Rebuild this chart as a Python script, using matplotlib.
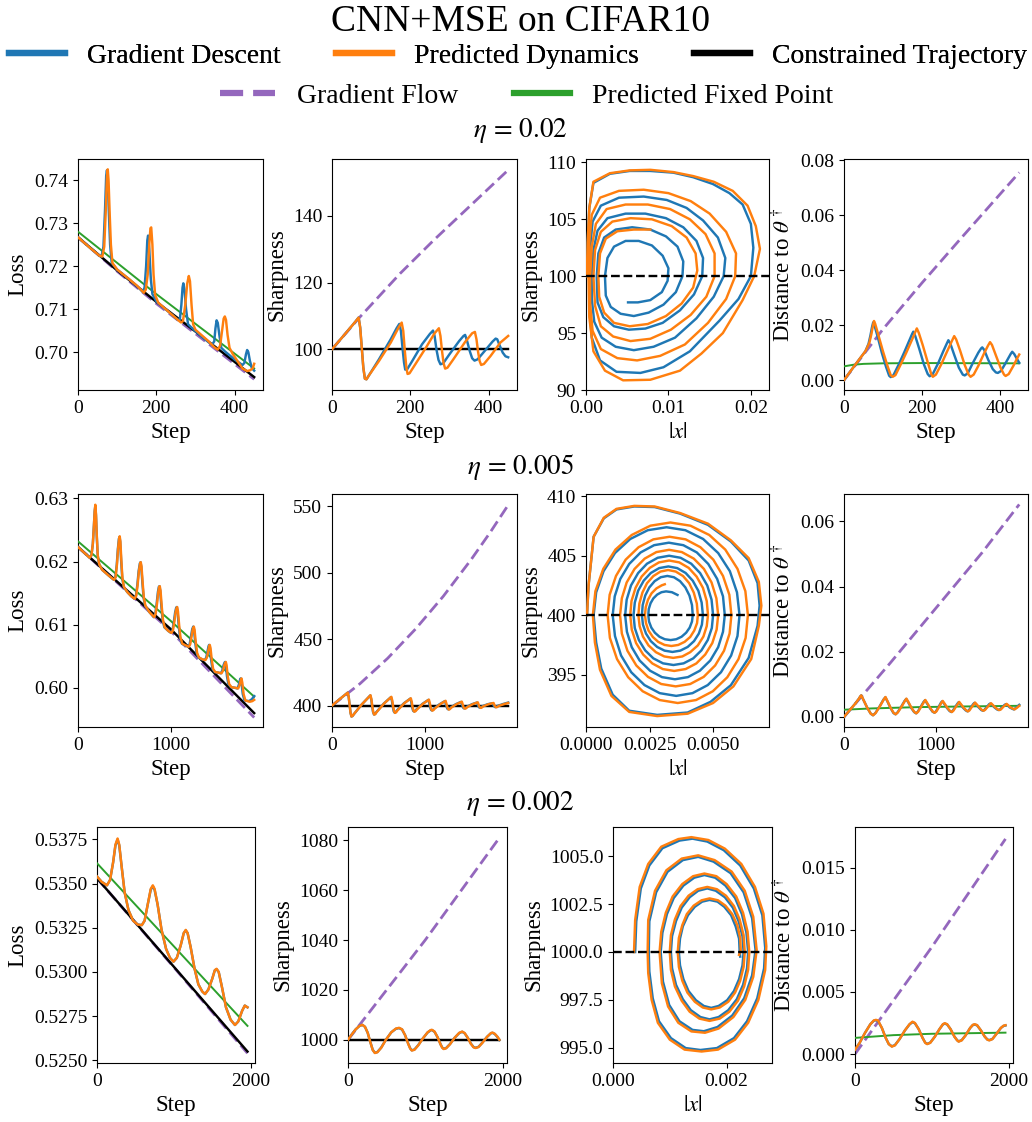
import matplotlib
matplotlib.use('Agg')
import matplotlib.pyplot as plt
from matplotlib.lines import Line2D

plt.rcParams['font.family'] = ['Liberation Serif', 'STIXGeneral', 'DejaVu Serif']
plt.rcParams['mathtext.fontset'] = 'stix'
plt.rcParams['axes.formatter.useoffset'] = False
plt.rcParams['xtick.labelsize'] = 14
plt.rcParams['ytick.labelsize'] = 14
plt.rcParams['axes.labelsize'] = 16.5

C_GD = '#1f77b4'
C_PD = '#ff7f0e'
C_CT = 'black'
C_GF = '#9467bd'
C_FP = '#2ca02c'

TITLE = 'CNN+MSE on CIFAR10'
LEGEND_ROW1 = ['Gradient Descent', 'Predicted Dynamics', 'Constrained Trajectory']
LEGEND_ROW2 = ['Gradient Flow', 'Predicted Fixed Point']
ETA_LABELS = [r'$\eta\,=\,0.02$', r'$\eta\,=\,0.005$', r'$\eta\,=\,0.002$']
THRESHOLDS = [100, 400, 1000]

# ---------------- Row 1 (eta = 0.02) ----------------
loss1_gd = [(0,0.7267),(30,0.7243),(55,0.7224),(60,0.7222),(65,0.7245),(69,0.7330),(72,0.7410),(74,0.7423),(76,0.7400),(79,0.7320),(82,0.7250),(86,0.7208),(100,0.7192),(130,0.7170),(155,0.7150),(165,0.7140),(170,0.7150),(174,0.7200),(177,0.7260),(179,0.7271),(182,0.7240),(186,0.7170),(190,0.7135),(200,0.7118),(240,0.7087),(255,0.7075),(260,0.7075),(264,0.7110),(267,0.7150),(269,0.7160),(272,0.7145),(276,0.7100),(281,0.7065),(290,0.7057),(320,0.7033),(342,0.7017),(348,0.7025),(351,0.7055),(354,0.7074),(357,0.7068),(361,0.7040),(366,0.7010),(375,0.7002),(400,0.6983),(420,0.6970),(425,0.6975),(429,0.6995),(432,0.7005),(435,0.7000),(439,0.6980),(444,0.6963),(450,0.6957)]
loss1_pd = [(0,0.7267),(30,0.7243),(55,0.7224),(62,0.7222),(67,0.7245),(71,0.7330),(74,0.7410),(76,0.7425),(78,0.7400),(81,0.7320),(84,0.7250),(88,0.7207),(100,0.7192),(130,0.7170),(150,0.7155),(163,0.7143),(168,0.7138),(173,0.7145),(178,0.7180),(182,0.7250),(185,0.7288),(187,0.7290),(190,0.7250),(193,0.7180),(197,0.7133),(205,0.7115),(230,0.7095),(255,0.7075),(263,0.7069),(268,0.7072),(274,0.7110),(279,0.7160),(283,0.7177),(286,0.7165),(290,0.7110),(294,0.7065),(300,0.7052),(330,0.7028),(350,0.7010),(357,0.7006),(363,0.7015),(368,0.7050),(372,0.7078),(375,0.7083),(378,0.7075),(382,0.7040),(387,0.7010),(395,0.6996),(420,0.6962),(432,0.6956),(440,0.6958),(446,0.6962),(450,0.6973)]
loss1_ct = [(0,0.7267),(100,0.7190),(200,0.7117),(300,0.7048),(450,0.6942)]
loss1_gf = [(0,0.7267),(100,0.7188),(200,0.7113),(300,0.7043),(450,0.6937)]
loss1_fp = [(0,0.7280),(200,0.7135),(450,0.6962)]

sharp1_gd = [(0,100.0),(35,104.8),(60,108.3),(68,109.5),(72,106.5),(76,100.5),(80,94.5),(84,91.2),(88,91.0),(95,92.3),(120,97.0),(150,103.0),(165,106.3),(172,107.6),(176,105.5),(180,100.5),(184,96.0),(187,93.9),(192,94.0),(205,96.5),(230,101.5),(250,104.6),(258,105.6),(262,104.0),(267,99.8),(272,96.8),(277,95.5),(284,95.8),(300,98.5),(325,102.5),(336,104.0),(340,104.3),(345,102.5),(352,99.4),(358,97.3),(364,96.6),(372,97.0),(390,99.5),(410,102.3),(418,103.2),(422,103.0),(428,101.2),(436,99.0),(443,97.9),(450,97.6)]
sharp1_pd = [(0,100.0),(35,104.8),(60,108.3),(68,109.5),(72,106.5),(76,100.5),(80,94.5),(84,91.2),(88,91.0),(95,92.3),(120,96.5),(150,102.0),(170,106.5),(178,108.0),(182,105.5),(186,99.5),(190,94.5),(193,92.6),(198,92.8),(210,95.0),(240,100.5),(262,104.8),(273,106.3),(277,104.0),(281,99.5),(285,95.8),(289,94.2),(295,94.5),(310,97.0),(340,102.2),(358,104.8),(365,105.2),(369,103.0),(373,99.3),(377,96.5),(381,95.3),(388,95.6),(405,98.0),(430,102.0),(450,104.0)]
sharp1_ct = [(0,100.0),(450,100.0)]
sharp1_gf = [(0,100.0),(70,109.5),(174,122.7),(260,132.7),(346,142.2),(450,153.7)]

spiral1_gd = [(0.0001,100.0),(0.0002,103.0),(0.0004,106.0),(0.0009,108.2),(0.0029,109.0),(0.0053,109.25),(0.0078,109.25),(0.0106,109.1),(0.0130,108.7),(0.0154,108.1),(0.0174,107.3),(0.0190,106.3),(0.0200,104.6),(0.0203,102.5),(0.0200,100.0),(0.0185,98.0),(0.0162,96.1),(0.0126,93.4),(0.0094,92.0),(0.0066,91.5),(0.0037,91.6),(0.0017,92.6),(0.0007,94.6),(0.0004,97.3),
              (0.0004,100.0),(0.0005,102.5),(0.0008,104.8),(0.0018,106.2),(0.0040,106.9),(0.0070,107.0),(0.0098,106.7),(0.0122,106.0),(0.0142,104.9),(0.0160,103.4),(0.0169,101.6),(0.0167,100.0),(0.0155,98.2),(0.0134,96.3),(0.0108,94.6),(0.0082,93.8),(0.0058,93.5),(0.0036,93.8),(0.0019,94.6),(0.0010,96.0),(0.0007,98.0),
              (0.0007,100.0),(0.0009,102.3),(0.0014,104.0),(0.0026,105.1),(0.0048,105.5),(0.0072,105.5),(0.0097,105.1),(0.0118,104.3),(0.0134,103.1),(0.0142,101.6),(0.0141,100.0),(0.0131,98.4),(0.0114,97.0),(0.0093,95.9),(0.0072,95.4),(0.0052,95.3),(0.0034,95.6),(0.0021,96.4),(0.0014,97.7),
              (0.0013,100.0),(0.0015,102.0),(0.0022,103.4),(0.0036,104.1),(0.0056,104.3),(0.0078,104.1),(0.0097,103.5),(0.0111,102.6),(0.0118,101.3),(0.0117,100.0),(0.0109,98.6),(0.0094,97.5),(0.0076,96.8),(0.0058,96.5),(0.0042,96.7),(0.0030,97.3),(0.0024,98.3),
              (0.0023,100.0),(0.0026,101.6),(0.0034,102.6),(0.0048,103.1),(0.0064,103.1),(0.0080,102.7),(0.0093,101.8),(0.0100,100.7),(0.0099,99.6),(0.0092,98.6),(0.0078,97.9),(0.0063,97.7),(0.0051,97.7)]
spiral1_pd = [(0.0001,100.0),(0.0002,103.0),(0.0004,106.0),(0.0009,108.3),(0.0029,109.05),(0.0053,109.3),(0.0078,109.35),(0.0106,109.15),(0.0130,108.8),(0.0155,108.3),(0.0178,107.5),(0.0196,106.2),(0.0206,104.4),(0.0211,102.4),(0.0204,100.0),(0.0190,97.9),(0.0166,95.0),(0.0140,93.2),(0.0114,91.7),(0.0078,90.9),(0.0045,90.85),(0.0023,91.7),(0.0009,93.4),(0.0004,96.4),
              (0.0003,100.0),(0.0004,103.0),(0.0007,105.4),(0.0017,106.9),(0.0040,107.5),(0.0070,107.6),(0.0100,107.3),(0.0127,106.6),(0.0150,105.5),(0.0170,103.9),(0.0182,102.0),(0.0181,100.0),(0.0170,98.0),(0.0148,95.9),(0.0120,94.0),(0.0090,93.0),(0.0062,92.6),(0.0038,92.8),(0.0018,93.6),(0.0008,95.2),(0.0005,97.6),
              (0.0005,100.0),(0.0007,102.6),(0.0012,104.6),(0.0025,105.9),(0.0048,106.3),(0.0075,106.3),(0.0102,105.9),(0.0126,105.0),(0.0145,103.7),(0.0156,102.0),(0.0156,100.0),(0.0146,98.2),(0.0127,96.6),(0.0103,95.3),(0.0078,94.5),(0.0054,94.3),(0.0033,94.7),(0.0018,95.6),(0.0011,97.4),
              (0.0009,100.0),(0.0011,102.3),(0.0018,103.9),(0.0032,104.8),(0.0054,105.1),(0.0080,105.0),(0.0104,104.4),(0.0122,103.4),(0.0133,102.0),(0.0135,100.5),(0.0130,99.0),(0.0116,97.6),(0.0097,96.5),(0.0075,95.8),(0.0053,95.6),(0.0034,95.9),(0.0022,96.8),(0.0016,98.2),
              (0.0015,100.0),(0.0017,102.0),(0.0024,103.3),(0.0038,103.95),(0.0058,104.1),(0.0078,104.1)]

dist1_gd = [(0,0.0),(30,0.0058),(55,0.0105),(63,0.0132),(68,0.0163),(72,0.0193),(75,0.0210),(78,0.0200),(86,0.0160),(97,0.0100),(108,0.0048),(116,0.0016),(120,0.0011),(127,0.0018),(140,0.0055),(155,0.0102),(168,0.0145),(175,0.0168),(178,0.0176),(183,0.0160),(193,0.0115),(205,0.0058),(215,0.0022),(220,0.0014),(228,0.0022),(242,0.0062),(255,0.0105),(264,0.0133),(268,0.0145),(273,0.0133),(283,0.0092),(295,0.0045),(305,0.0020),(310,0.0017),(318,0.0025),(330,0.0060),(345,0.0100),(352,0.0115),(355,0.0119),(360,0.0110),(370,0.0075),(382,0.0040),(390,0.0028),(395,0.0026),(403,0.0033),(415,0.0062),(428,0.0095),(432,0.0103),(437,0.0095),(445,0.0075),(450,0.0063)]
dist1_pd = [(0,0.0),(30,0.0058),(55,0.0105),(65,0.0135),(70,0.0165),(74,0.0195),(77,0.0215),(80,0.0205),(88,0.0165),(100,0.0105),(112,0.0050),(120,0.0018),(125,0.0012),(132,0.0018),(145,0.0055),(160,0.0100),(175,0.0148),(183,0.0175),(187,0.0188),(192,0.0172),(202,0.0128),(215,0.0065),(224,0.0022),(228,0.0012),(236,0.0020),(250,0.0058),(265,0.0105),(277,0.0142),(283,0.0160),(288,0.0148),(298,0.0108),(310,0.0055),(320,0.0020),(325,0.0012),(333,0.0020),(345,0.0052),(360,0.0098),(370,0.0126),(375,0.0138),(380,0.0128),(390,0.0090),(402,0.0045),(411,0.0020),(415,0.0015),(423,0.0022),(435,0.0052),(445,0.0080),(450,0.0093)]
dist1_gf = [(0,0.0),(100,0.0185),(200,0.0353),(300,0.0515),(450,0.0755)]
dist1_fp = [(0,0.0050),(25,0.0056),(50,0.0059),(100,0.0061),(200,0.0062),(450,0.0061)]

# ---------------- Row 2 (eta = 0.005) ----------------
loss2_gd = [(0,0.6223),(60,0.6215),(126,0.6206),(145,0.6210),(160,0.6228),(172,0.6258),(180,0.6280),(187,0.6288),(194,0.6273),(203,0.6238),(213,0.6209),(228,0.6196),(260,0.6187),(330,0.6178),(387,0.6171),(403,0.6175),(418,0.6195),(430,0.6220),(441,0.6236),(448,0.6239),(455,0.6231),(465,0.6202),(477,0.6174),(493,0.6160),(530,0.6152),(575,0.6145),(609,0.6141),(625,0.6146),(640,0.6163),(654,0.6185),(667,0.6197),(674,0.6199),(682,0.6192),(694,0.6167),(707,0.6143),(724,0.6130),(770,0.6120),(817,0.6112),(833,0.6117),(848,0.6133),(862,0.6152),(872,0.6160),(878,0.6161),(886,0.6154),(899,0.6129),(913,0.6107),(931,0.6096),(975,0.6090),(1003,0.6087),(1019,0.6091),(1034,0.6105),(1048,0.6120),(1059,0.6127),(1065,0.6128),(1073,0.6121),(1086,0.6099),(1100,0.6080),(1120,0.6070),(1160,0.6067),(1188,0.6065),(1204,0.6069),(1218,0.6081),(1232,0.6093),(1243,0.6097),(1251,0.6092),(1264,0.6072),(1279,0.6055),(1299,0.6048),(1340,0.6045),(1367,0.6044),(1383,0.6048),(1397,0.6058),(1408,0.6066),(1414,0.6068),(1422,0.6063),(1435,0.6045),(1450,0.6030),(1475,0.6025),(1515,0.6024),(1539,0.6023),(1555,0.6027),(1570,0.6036),(1581,0.6040),(1586,0.6041),(1594,0.6036),(1607,0.6018),(1622,0.6006),(1650,0.6001),(1695,0.6000),(1718,0.5999),(1733,0.6004),(1746,0.6012),(1754,0.6015),(1763,0.6008),(1777,0.5990),(1796,0.5980),(1845,0.5979),(1875,0.5982),(1900,0.5987)]
loss2_pd = [(0,0.6223),(60,0.6215),(126,0.6206),(145,0.6210),(160,0.6228),(172,0.6258),(180,0.6280),(187,0.6290),(194,0.6275),(203,0.6240),(213,0.6210),(228,0.6196),(260,0.6187),(330,0.6178),(389,0.6171),(405,0.6175),(420,0.6195),(432,0.6220),(443,0.6236),(450,0.6240),(457,0.6232),(467,0.6203),(479,0.6174),(495,0.6160),(530,0.6152),(575,0.6145),(612,0.6141),(628,0.6146),(643,0.6163),(657,0.6185),(670,0.6197),(677,0.6199),(685,0.6192),(697,0.6167),(710,0.6143),(727,0.6130),(770,0.6120),(821,0.6112),(837,0.6117),(852,0.6133),(866,0.6152),(876,0.6160),(882,0.6161),(890,0.6154),(903,0.6129),(917,0.6107),(935,0.6096),(975,0.6090),(1008,0.6087),(1024,0.6091),(1039,0.6105),(1053,0.6120),(1064,0.6127),(1070,0.6128),(1078,0.6121),(1091,0.6099),(1105,0.6080),(1125,0.6070),(1165,0.6067),(1194,0.6065),(1210,0.6069),(1224,0.6081),(1238,0.6093),(1249,0.6097),(1257,0.6092),(1270,0.6072),(1285,0.6055),(1305,0.6048),(1345,0.6045),(1374,0.6044),(1390,0.6048),(1404,0.6058),(1415,0.6066),(1421,0.6068),(1429,0.6063),(1442,0.6045),(1457,0.6030),(1480,0.6025),(1520,0.6024),(1547,0.6023),(1563,0.6027),(1578,0.6036),(1589,0.6040),(1594,0.6041),(1602,0.6036),(1615,0.6018),(1630,0.6006),(1655,0.6001),(1700,0.6000),(1727,0.5999),(1742,0.6004),(1755,0.6012),(1763,0.6015),(1772,0.6008),(1786,0.5990),(1805,0.5980),(1853,0.5978),(1880,0.5979),(1900,0.5981)]
loss2_ct = [(0,0.6223),(1000,0.6093),(1900,0.5960)]
loss2_gf = [(0,0.6223),(1000,0.6090),(1900,0.5953)]
loss2_fp = [(0,0.6232),(1000,0.6106),(1900,0.5986)]

sharp2_gd = [(0,400.0),(85,405.0),(170,409.8),(180,406.5),(190,400.5),(200,394.5),(210,391.8),(222,392.2),(235,393.5),(320,400.8),(413,407.7),
             (423,404.7),(433,399.5),(443,395.1),(453,393.3),(465,393.7),(478,395.1),(558,401.5),(636,406.4),
             (646,403.7),(656,399.0),(666,395.7),(676,394.7),(688,395.2),(701,396.5),(776,401.8),(845,405.3),
             (855,402.7),(865,398.5),(875,396.1),(885,395.6),(897,396.1),(910,397.1),(975,401.3),(1039,404.3),
             (1049,401.8),(1058,398.6),(1068,396.8),(1077,396.4),(1089,396.9),(1101,397.8),(1159,401.0),(1218,403.4),
             (1228,401.1),(1237,398.8),(1246,397.5),(1255,397.2),(1266,397.6),(1278,398.5),(1333,401.0),(1392,402.8),
             (1402,400.7),(1411,398.8),(1420,398.0),(1429,397.9),(1440,398.2),(1452,399.0),(1507,401.0),(1563,402.3),
             (1573,400.5),(1581,399.1),(1590,398.5),(1599,398.5),(1609,398.8),(1621,399.5),(1676,401.0),(1732,401.8),
             (1742,400.3),(1750,399.3),(1758,398.9),(1767,398.9),(1777,399.3),(1790,399.9),(1845,401.2),(1900,402.3)]
sharp2_pd = [(0,400.0),(85,405.0),(170,409.8),(180,406.5),(190,400.5),(200,394.5),(210,391.8),(222,392.2),(235,393.5),(320,400.8),(415,407.8),
             (425,404.8),(435,399.5),(445,395.0),(455,393.2),(467,393.6),(480,395.0),(560,401.5),(640,406.6),
             (650,403.8),(660,399.0),(670,395.6),(680,394.5),(692,395.0),(705,396.3),(780,401.8),(850,405.5),
             (860,402.8),(870,398.5),(880,396.0),(890,395.4),(902,395.9),(915,397.0),(980,401.3),(1045,404.5),
             (1055,401.9),(1064,398.6),(1074,396.7),(1083,396.2),(1095,396.7),(1107,397.7),(1165,401.0),(1225,403.6),
             (1235,401.2),(1244,398.8),(1253,397.4),(1262,397.0),(1273,397.5),(1285,398.4),(1340,401.0),(1400,403.0),
             (1410,400.8),(1419,398.8),(1428,397.9),(1437,397.7),(1448,398.1),(1460,398.9),(1515,401.0),(1572,402.5),
             (1582,400.6),(1590,399.0),(1599,398.4),(1608,398.3),(1618,398.7),(1630,399.4),(1685,401.0),(1742,402.0),
             (1752,400.3),(1760,399.2),(1768,398.8),(1777,398.8),(1787,399.2),(1800,399.8),(1850,401.0),(1900,402.0)]
sharp2_ct = [(0,400.0),(1900,400.0)]
sharp2_gf = [(0,400.0),(300,416.4),(600,435.6),(900,457.6),(1200,482.3),(1500,509.9),(1700,529.8),(1900,551.0)]

spiral2_gd = [(0.00004,400.0),(0.0001,402.5),(0.0003,406.6),(0.0007,408.15),(0.0012,408.9),(0.0019,409.15),(0.0027,409.1),(0.0037,408.55),(0.0048,407.6),(0.0057,406.2),(0.0064,404.6),(0.00675,402.7),(0.00683,400.8),(0.00675,399.1),(0.0064,396.4),(0.0057,394.1),(0.0049,392.7),(0.0040,391.8),(0.0028,391.6),(0.0017,391.95),(0.00105,393.3),(0.0006,395.5),(0.0004,397.7),
              (0.0003,400.0),(0.0004,401.92),(0.00069,403.7),(0.00114,405.23),(0.00174,406.41),(0.00243,407.15),(0.00317,407.4),(0.00391,407.15),(0.00461,406.41),(0.0052,405.23),(0.00566,403.7),(0.00594,401.92),(0.00604,400.0),(0.00596,398.24),(0.00571,396.6),(0.00531,395.19),(0.00479,394.11),(0.00419,393.43),(0.00355,393.2),(0.0029,393.43),(0.0023,394.11),(0.00178,395.19),(0.00138,396.6),(0.00114,398.24),
              (0.00105,400.0),(0.00113,401.58),(0.00135,403.05),(0.0017,404.31),(0.00215,405.28),(0.00268,405.89),(0.00326,406.1),(0.00383,405.89),(0.00436,405.28),(0.00481,404.31),(0.00516,403.05),(0.00539,401.58),(0.00546,400.0),(0.00539,398.6),(0.0052,397.3),(0.00489,396.18),(0.00448,395.32),(0.00401,394.78),(0.0035,394.6),(0.00299,394.78),(0.00252,395.32),(0.00211,396.18),(0.0018,397.3),(0.00161,398.6),
              (0.00154,400.0),(0.0016,401.3),(0.00177,402.5),(0.00205,403.54),(0.0024,404.33),(0.00282,404.83),(0.00327,405.0),(0.00372,404.83),(0.00414,404.33),(0.00449,403.54),(0.00477,402.5),(0.00494,401.3),(0.0050,400.0),(0.00495,398.91),(0.00479,397.9),(0.00454,397.03),(0.00422,396.36),(0.00384,395.94),(0.00344,395.8),(0.00303,395.94),(0.00265,396.36),(0.00233,397.03),(0.00208,397.9),(0.00192,398.91),
              (0.00187,400.0),(0.00192,401.06),(0.00205,402.05),(0.00227,402.9),(0.00255,403.55),(0.00288,403.96),(0.00324,404.1),(0.00359,403.96),(0.00392,403.55),(0.0042,402.9),(0.00442,402.05),(0.00455,401.06),(0.0046,400.0),(0.00456,399.2),(0.00444,398.45),(0.00425,397.81),(0.0040,397.32),(0.00371,397.01),(0.0034,396.9),(0.00309,397.01),(0.0028,397.32),(0.00255,397.81),(0.00236,398.45),(0.00224,399.2),
              (0.0022,400.0),(0.00223,400.85),(0.00233,401.65),(0.00249,402.33),(0.0027,402.86),(0.00294,403.19),(0.0032,403.3),(0.00346,403.19),(0.0037,402.86),(0.00391,402.33),(0.00407,401.65),(0.00417,400.85),(0.0042,400.0),(0.00417,399.46),(0.00408,398.95),(0.00394,398.52),(0.00376,398.18),(0.00355,397.97),(0.00333,397.9),(0.0031,397.97),(0.00289,398.18),(0.00271,398.52),(0.00257,398.95),(0.00248,399.46),
              (0.00245,400.0),(0.00247,400.52),(0.00254,401.0),(0.00265,401.41),(0.0028,401.73),(0.00297,401.93),(0.00315,402.0),(0.00338,401.93),(0.0036,401.7)]
spiral2_pd = [(0.00004,400.0),(0.0001,402.5),(0.0003,406.6),(0.0007,408.2),(0.0012,408.95),(0.0019,409.2),(0.0027,409.15),(0.0037,408.6),(0.0048,407.7),(0.0057,406.3),(0.0064,404.8),(0.0068,402.8),(0.0069,400.8),(0.0068,399.1),(0.0065,396.3),(0.0058,394.0),(0.0050,392.6),(0.0040,391.7),(0.0028,391.5),(0.0017,391.85),(0.0010,393.2),(0.00055,395.4),(0.00035,397.7),
              (0.00027,400.0),(0.00037,402.02),(0.00068,403.9),(0.00116,405.52),(0.0018,406.75),(0.00253,407.53),(0.00332,407.8),(0.00411,407.53),(0.00485,406.75),(0.00548,405.52),(0.00596,403.9),(0.00627,402.02),(0.00637,400.0),(0.00628,398.08),(0.0060,396.3),(0.00556,394.77),(0.00499,393.59),(0.00433,392.85),(0.00361,392.6),(0.0029,392.85),(0.00223,393.59),(0.00166,394.77),(0.00122,396.3),(0.00094,398.08),
              (0.00085,400.0),(0.00093,401.71),(0.00118,403.3),(0.00156,404.67),(0.00207,405.72),(0.00265,406.38),(0.00329,406.6),(0.00392,406.38),(0.0045,405.72),(0.00501,404.67),(0.00539,403.3),(0.00564,401.71),(0.00572,400.0),(0.00565,398.45),(0.00543,397.0),(0.00508,395.76),(0.00463,394.8),(0.0041,394.2),(0.00353,394.0),(0.00296,394.2),(0.00244,394.8),(0.00198,395.76),(0.00163,397.0),(0.00141,398.45),
              (0.00134,400.0),(0.00141,401.42),(0.0016,402.75),(0.00191,403.89),(0.00231,404.76),(0.00277,405.31),(0.00327,405.5),(0.00377,405.31),(0.00424,404.76),(0.00464,403.89),(0.00494,402.75),(0.00513,401.42),(0.0052,400.0),(0.00514,398.78),(0.00497,397.65),(0.00469,396.68),(0.00434,395.93),(0.00392,395.46),(0.00347,395.3),(0.00302,395.46),(0.00261,395.93),(0.00225,396.68),(0.00197,397.65),(0.0018,398.78),
              (0.00174,400.0),(0.00179,401.19),(0.00195,402.3),(0.00219,403.25),(0.00251,403.98),(0.00287,404.44),(0.00327,404.6),(0.00367,404.44),(0.00404,403.98),(0.00435,403.25),(0.0046,402.3),(0.00475,401.19),(0.0048,400.0),(0.00475,399.07),(0.00462,398.2),(0.0044,397.45),(0.0041,396.88),(0.00379,396.52),(0.00343,396.4),(0.00308,396.52),(0.00275,396.88),(0.00246,397.45),(0.00224,398.2),(0.00211,399.07),
              (0.00206,400.0),(0.0021,400.98),(0.00222,401.9),(0.0024,402.69),(0.00265,403.29),(0.00293,403.67),(0.00323,403.8),(0.00353,403.67),(0.00382,403.29),(0.00406,402.69),(0.00424,401.9),(0.00436,400.98),(0.0044,400.0),(0.00437,399.33),(0.00426,398.7),(0.0041,398.16),(0.00388,397.75),(0.00363,397.49),(0.00336,397.4),(0.00309,397.49),(0.00284,397.75),(0.00263,398.16),(0.00246,398.7),(0.00236,399.33),
              (0.00232,400.0),(0.00235,400.67),(0.00244,401.3),(0.00258,401.84),(0.00277,402.25),(0.00298,402.51),(0.0031,402.6)]

dist2_gd = [(0,0.0),(60,0.0020),(120,0.0040),(160,0.0055),(177,0.0063),(187,0.0066),
            (213,0.0051),(252,0.0028),(290,0.0010),(314,0.0005),(341,0.0012),(388,0.0033),(428,0.0053),(448,0.0060),
            (470,0.0048),(503,0.0028),(536,0.0012),(558,0.0008),(581,0.0014),(622,0.0032),(657,0.0049),(674,0.0055),
            (696,0.0045),(728,0.0028),(760,0.0015),(781,0.0011),(800,0.0016),(834,0.0032),(863,0.0046),(878,0.0051),
            (899,0.0042),(929,0.0028),(960,0.0016),(980,0.0013),(997,0.0017),(1027,0.0031),(1052,0.0044),(1065,0.0048),
            (1085,0.0041),(1115,0.0028),(1145,0.0018),(1164,0.0015),(1180,0.0019),(1207,0.0031),(1231,0.0041),(1243,0.0045),
            (1262,0.0039),(1291,0.0028),(1320,0.0020),(1338,0.0017),(1353,0.0020),(1380,0.0031),(1403,0.0040),(1414,0.0043),
            (1433,0.0038),(1461,0.0029),(1489,0.0021),(1507,0.0019),(1523,0.0022),(1550,0.0031),(1574,0.0039),(1586,0.0041),
            (1604,0.0037),(1632,0.0029),(1659,0.0023),(1676,0.0021),(1692,0.0023),(1719,0.0031),(1742,0.0037),(1754,0.0039),
            (1771,0.0036),(1797,0.0029),(1824,0.0025),(1841,0.0023),(1870,0.0029),(1900,0.0037)]
dist2_pd = [(0,0.0),(60,0.0020),(120,0.0040),(160,0.0055),(177,0.0063),(187,0.0066),
            (213,0.0051),(252,0.0028),(290,0.0010),(316,0.0005),(343,0.0012),(390,0.0033),(430,0.0053),(450,0.0061),
            (472,0.0048),(505,0.0028),(539,0.0012),(561,0.0008),(584,0.0014),(625,0.0032),(660,0.0049),(677,0.0056),
            (699,0.0045),(731,0.0028),(763,0.0015),(785,0.0011),(804,0.0016),(838,0.0032),(867,0.0046),(882,0.0052),
            (903,0.0042),(933,0.0028),(964,0.0016),(985,0.0013),(1002,0.0017),(1032,0.0031),(1057,0.0044),(1070,0.0049),
            (1090,0.0041),(1120,0.0028),(1150,0.0018),(1170,0.0015),(1186,0.0019),(1213,0.0031),(1237,0.0041),(1249,0.0046),
            (1268,0.0039),(1297,0.0028),(1326,0.0020),(1345,0.0017),(1360,0.0020),(1387,0.0031),(1410,0.0040),(1421,0.0044),
            (1440,0.0038),(1468,0.0029),(1496,0.0021),(1515,0.0019),(1531,0.0022),(1558,0.0031),(1582,0.0039),(1594,0.0042),
            (1612,0.0037),(1640,0.0029),(1667,0.0023),(1685,0.0021),(1701,0.0023),(1728,0.0031),(1751,0.0037),(1763,0.0040),
            (1780,0.0036),(1806,0.0029),(1833,0.0025),(1850,0.0023),(1875,0.0028),(1900,0.0034)]
dist2_gf = [(0,0.0),(500,0.0165),(1000,0.0335),(1500,0.0505),(1900,0.0652)]
dist2_fp = [(0,0.0022),(300,0.0026),(800,0.0030),(1300,0.0032),(1900,0.0034)]

# ---------------- Row 3 (eta = 0.002) ----------------
loss3_gd = [(0,0.5354),(60,0.5351),(130,0.5349),(170,0.5352),(210,0.5362),(240,0.53715),(268,0.5375),(290,0.53715),(320,0.5360),(360,0.5345),(410,0.5335),(470,0.5329),(530,0.53268),(584,0.53265),(620,0.5329),(660,0.5338),(700,0.53465),(727,0.53485),(750,0.53465),(790,0.5338),(840,0.5324),(900,0.5313),(950,0.5308),(996,0.53058),(1040,0.5308),(1090,0.5315),(1130,0.5322),(1156,0.53235),(1180,0.5322),(1220,0.5314),(1270,0.5302),(1320,0.5293),(1370,0.5289),(1407,0.52875),(1450,0.5290),(1500,0.5296),(1535,0.5301),(1558,0.53015),(1585,0.5300),(1625,0.5292),(1680,0.5280),(1740,0.5273),(1797,0.5270),(1840,0.5272),(1890,0.5278),(1925,0.5281),(1960,0.5280)]
loss3_pd = [(0,0.5354),(60,0.5351),(130,0.5349),(170,0.5352),(210,0.5362),(240,0.5372),(268,0.53755),(290,0.5372),(320,0.5360),(360,0.5345),(410,0.5335),(470,0.5329),(530,0.53268),(584,0.53265),(620,0.5329),(660,0.5338),(700,0.5347),(727,0.5349),(750,0.5347),(790,0.5338),(840,0.5324),(900,0.5313),(950,0.5308),(996,0.53058),(1040,0.5308),(1090,0.5315),(1130,0.5322),(1156,0.53238),(1180,0.5322),(1220,0.5314),(1270,0.5302),(1320,0.5293),(1370,0.5289),(1407,0.52875),(1450,0.5290),(1500,0.5296),(1535,0.5301),(1558,0.53018),(1585,0.5300),(1625,0.5292),(1680,0.5280),(1740,0.5273),(1797,0.5270),(1840,0.5272),(1890,0.5278),(1925,0.5281),(1960,0.5280)]
loss3_ct = [(0,0.5353),(1960,0.5255)]
loss3_gf = [(0,0.5353),(1000,0.53027),(1960,0.5254)]
loss3_fp = [(0,0.53615),(1960,0.52695)]

sharp3_gd = [(0,1000.0),(50,1002.2),(100,1004.2),(150,1005.6),(187,1005.95),(220,1005.2),(255,1002.8),(290,999.0),(320,996.0),(348,994.8),(380,995.1),(430,996.9),(490,1000.0),(560,1003.0),(620,1004.4),(661,1004.7),(700,1004.1),(740,1001.8),(780,998.4),(805,996.6),(826,995.8),(860,996.1),(910,997.9),(970,1000.6),(1030,1002.9),(1070,1003.8),(1087,1003.9),(1120,1003.2),(1160,1001.0),(1200,998.1),(1220,996.9),(1239,996.4),(1270,996.7),(1320,998.3),(1380,1000.8),(1440,1002.7),(1478,1003.2),(1510,1002.6),(1550,1000.8),(1590,998.5),(1625,997.1),(1652,996.8),(1690,997.2),(1740,998.9),(1800,1001.2),(1850,1002.6),(1870,1002.8),(1900,1002.3),(1935,1001.1),(1960,999.9)]
sharp3_pd = [(0,1000.0),(50,1002.2),(100,1004.2),(150,1005.6),(187,1006.0),(220,1005.2),(255,1002.8),(290,999.0),(320,995.9),(348,994.7),(380,995.0),(430,996.8),(490,1000.0),(560,1003.0),(620,1004.5),(661,1004.8),(700,1004.2),(740,1001.8),(780,998.3),(805,996.5),(826,995.7),(860,996.0),(910,997.8),(970,1000.6),(1030,1003.0),(1070,1003.9),(1087,1004.0),(1120,1003.3),(1160,1001.0),(1200,998.0),(1220,996.8),(1239,996.3),(1270,996.6),(1320,998.2),(1380,1000.8),(1440,1002.8),(1478,1003.3),(1510,1002.7),(1550,1000.8),(1590,998.4),(1625,997.0),(1652,996.7),(1690,997.1),(1740,998.8),(1800,1001.2),(1850,1002.7),(1870,1002.9),(1900,1002.4),(1935,1001.2),(1960,1000.0)]
sharp3_ct = [(0,1000.0),(1960,1000.0)]
sharp3_gf = [(0,1000.0),(1000,1040.0),(1960,1081.0)]

spiral3_gd = [(0.00039,1000.0),(0.00041,1001.6),(0.00049,1003.32),(0.00064,1004.52),(0.00087,1005.42),(0.00117,1005.82),(0.0014,1005.92),(0.00166,1005.77),(0.00195,1005.32),(0.00224,1004.52),(0.00248,1003.32),(0.00263,1001.92),(0.00268,1000.22),(0.00266,999.14),(0.00254,997.58),(0.00236,996.38),(0.00213,995.5),(0.00183,994.98),(0.00154,994.88),(0.00128,994.98),(0.00102,995.5),(0.00081,996.38),(0.0007,997.58),(0.00064,998.98),
              (0.00063,1000.0),(0.00064,1001.6),(0.00076,1003.12),(0.00096,1004.19),(0.00123,1004.8),(0.0015,1004.97),(0.00177,1004.72),(0.00207,1004.12),(0.0023,1003.12),(0.00245,1001.76),(0.00251,1000.1),(0.00245,998.78),(0.00231,997.58),(0.0021,996.68),(0.00184,996.08),(0.0016,995.86),(0.0014,995.93),(0.00117,996.38),(0.00099,997.23),(0.00088,998.45),
              (0.00084,1000.0),(0.00087,1001.0),(0.00095,1001.98),(0.00107,1002.82),(0.00124,1003.47),(0.00143,1003.88),(0.00161,1004.02),(0.0018,1003.88),(0.00198,1003.47),(0.00215,1002.82),(0.00227,1001.98),(0.00235,1001.0),(0.00238,1000.0),(0.00236,999.15),(0.00229,998.28),(0.00218,997.53),(0.00203,996.96),(0.00186,996.6),(0.0017,996.48),(0.00154,996.6),(0.00137,996.96),(0.00123,997.53),(0.00111,998.28),(0.00104,999.15),
              (0.00102,1000.0),(0.00104,1000.83),(0.00111,1001.62),(0.00121,1002.32),(0.00135,1002.86),(0.0015,1003.2),(0.00166,1003.32),(0.00181,1003.2),(0.00197,1002.86),(0.00211,1002.32),(0.00221,1001.62),(0.00228,1000.83),(0.0023,1000.0),(0.00228,999.3),(0.00222,998.58),(0.00213,997.96),(0.00201,997.48),(0.00186,997.18),(0.00173,997.08),(0.0016,997.18),(0.00146,997.48),(0.00133,997.96),(0.00124,998.58),(0.00118,999.3),
              (0.00116,1000.0),(0.00118,1000.7),(0.00123,1001.34),(0.00132,1001.92),(0.00144,1002.36),(0.00157,1002.63),(0.0017,1002.72),(0.00184,1002.63),(0.00196,1002.36),(0.00208,1001.92),(0.00216,1001.34),(0.00222,1000.7),(0.00223,1000.05),(0.00224,999.76)]
spiral3_pd = [(0.00037,1000.0),(0.00039,1001.67),(0.00047,1003.4),(0.00062,1004.6),(0.00085,1005.5),(0.00115,1005.9),(0.00138,1006.0),(0.00168,1005.85),(0.00197,1005.4),(0.00226,1004.6),(0.0025,1003.4),(0.00265,1002.0),(0.0027,1000.3),(0.00268,999.06),(0.00256,997.5),(0.00238,996.3),(0.00215,995.42),(0.00185,994.9),(0.00156,994.8),(0.00126,994.9),(0.0010,995.42),(0.00079,996.3),(0.00068,997.5),(0.00062,998.9),
              (0.00061,1000.0),(0.00062,1001.67),(0.00074,1003.2),(0.00094,1004.27),(0.00121,1004.88),(0.0015,1005.05),(0.00179,1004.8),(0.00209,1004.2),(0.00232,1003.2),(0.00247,1001.84),(0.00253,1000.1),(0.00247,998.7),(0.00233,997.5),(0.00212,996.6),(0.00186,996.0),(0.00162,995.78),(0.00138,995.85),(0.00115,996.3),(0.00097,997.15),(0.00086,998.37),
              (0.00082,1000.0),(0.00085,1001.06),(0.00093,1002.05),(0.00105,1002.9),(0.00122,1003.55),(0.00141,1003.96),(0.00161,1004.1),(0.00182,1003.96),(0.0020,1003.55),(0.00217,1002.9),(0.00229,1002.05),(0.00237,1001.06),(0.0024,1000.0),(0.00238,999.07),(0.00231,998.2),(0.0022,997.45),(0.00205,996.88),(0.00188,996.52),(0.0017,996.4),(0.00152,996.52),(0.00135,996.88),(0.00121,997.45),(0.00109,998.2),(0.00102,999.07),
              (0.0010,1000.0),(0.00102,1000.88),(0.00109,1001.7),(0.00119,1002.4),(0.00133,1002.94),(0.00149,1003.28),(0.00166,1003.4),(0.00183,1003.28),(0.00199,1002.94),(0.00213,1002.4),(0.00223,1001.7),(0.0023,1000.88),(0.00232,1000.0),(0.0023,999.22),(0.00224,998.5),(0.00215,997.88),(0.00203,997.4),(0.00188,997.1),(0.00173,997.0),(0.00158,997.1),(0.00144,997.4),(0.00131,997.88),(0.00122,998.5),(0.00116,999.22),
              (0.00114,1000.0),(0.00116,1000.73),(0.00122,1001.4),(0.0013,1001.98),(0.00142,1002.42),(0.00156,1002.7),(0.0017,1002.8),(0.00185,1002.7),(0.00198,1002.42),(0.0021,1001.98),(0.00219,1001.4),(0.00224,1000.73),(0.00225,1000.1),(0.00222,999.85)]

dist3_gd = [(0,0.00035),(60,0.0009),(130,0.0017),(200,0.0024),(245,0.00268),(272,0.00272),(300,0.00265),(350,0.0021),(400,0.0013),(440,0.0008),(480,0.00062),(520,0.00072),(580,0.0012),(650,0.0019),(710,0.00238),(749,0.00257),(780,0.00248),(830,0.0020),(880,0.0013),(915,0.00092),(940,0.00082),(980,0.00092),(1040,0.0014),(1100,0.0020),(1145,0.00238),(1169,0.00245),(1200,0.00238),(1245,0.0020),(1295,0.0014),(1330,0.00112),(1350,0.00102),(1390,0.00112),(1440,0.0015),(1500,0.0021),(1535,0.00233),(1558,0.00237),(1590,0.00231),(1640,0.0019),(1690,0.0014),(1725,0.00117),(1750,0.00112),(1790,0.00122),(1840,0.0016),(1900,0.0021),(1935,0.00226),(1960,0.0023)]
dist3_pd = [(0,0.00035),(60,0.0009),(130,0.0017),(200,0.0024),(245,0.0027),(272,0.00275),(300,0.0027),(350,0.0021),(400,0.0013),(440,0.0008),(480,0.0006),(520,0.0007),(580,0.0012),(650,0.0019),(710,0.0024),(749,0.0026),(780,0.0025),(830,0.0020),(880,0.0013),(915,0.0009),(940,0.0008),(980,0.0009),(1040,0.0014),(1100,0.0020),(1145,0.0024),(1169,0.00248),(1200,0.0024),(1245,0.0020),(1295,0.0014),(1330,0.0011),(1350,0.0010),(1390,0.0011),(1440,0.0015),(1500,0.0021),(1535,0.00235),(1558,0.0024),(1590,0.00233),(1640,0.0019),(1690,0.0014),(1725,0.00115),(1750,0.0011),(1790,0.0012),(1840,0.0016),(1900,0.0021),(1935,0.00228),(1960,0.00232)]
dist3_gf = [(0,0.0),(1000,0.0086),(1960,0.0173)]
dist3_fp = [(0,0.0013),(500,0.00152),(1000,0.00163),(1960,0.00172)]

# ---------------- layout (pixel boxes: left, top, right, bottom) ----------------
W, H = 1032, 1122
BOXES = [
    [(78,159,263,390),(332,159,517,390),(586,159,769,390),(844,159,1028,390)],
    [(78,494,263,727),(332,494,517,727),(586,494,769,727),(844,494,1028,727)],
    [(97,827,255,1063),(348,827,507,1063),(613,827,772,1063),(855,827,1013,1063)],
]
ETA_Y = [131, 467, 804]

ROWS = [
    dict(loss=(loss1_gd, loss1_pd, loss1_ct, loss1_gf, loss1_fp), sharp=(sharp1_gd, sharp1_pd, sharp1_ct, sharp1_gf),
         spiral=(spiral1_gd, spiral1_pd), dist=(dist1_gd, dist1_pd, dist1_gf, dist1_fp),
         xlim=(0, 472.5), xticks=[0, 200, 400],
         loss_ylim=(0.6912, 0.7449), loss_yt=[0.70, 0.71, 0.72, 0.73, 0.74],
         sharp_ylim=(87.8, 157.0), sharp_yt=[100, 120, 140],
         sp_xlim=(0, 0.0222), sp_ylim=(90.0, 110.3), sp_xt=[0.0, 0.01, 0.02], sp_yt=[90, 95, 100, 105, 110],
         dist_ylim=(-0.0036, 0.0804), dist_yt=[0.0, 0.02, 0.04, 0.06, 0.08]),
    dict(loss=(loss2_gd, loss2_pd, loss2_ct, loss2_gf, loss2_fp), sharp=(sharp2_gd, sharp2_pd, sharp2_ct, sharp2_gf),
         spiral=(spiral2_gd, spiral2_pd), dist=(dist2_gd, dist2_pd, dist2_gf, dist2_fp),
         xlim=(0, 1995), xticks=[0, 1000],
         loss_ylim=(0.5938, 0.6307), loss_yt=[0.60, 0.61, 0.62, 0.63],
         sharp_ylim=(383.9, 559.3), sharp_yt=[400, 450, 500, 550],
         sp_xlim=(0, 0.0072), sp_ylim=(390.58, 410.2), sp_xt=[0.0, 0.0025, 0.005], sp_yt=[395, 400, 405, 410],
         dist_ylim=(-0.0031, 0.0684), dist_yt=[0.0, 0.02, 0.04, 0.06]),
    dict(loss=(loss3_gd, loss3_pd, loss3_ct, loss3_gf, loss3_fp), sharp=(sharp3_gd, sharp3_pd, sharp3_ct, sharp3_gf),
         spiral=(spiral3_gd, spiral3_pd), dist=(dist3_gd, dist3_pd, dist3_gf, dist3_fp),
         xlim=(0, 2058), xticks=[0, 2000],
         loss_ylim=(0.52485, 0.5382), loss_yt=[0.525, 0.5275, 0.53, 0.5325, 0.535, 0.5375],
         sharp_ylim=(990.7, 1085.3), sharp_yt=[1000, 1020, 1040, 1060, 1080],
         sp_xlim=(0, 0.0028), sp_ylim=(994.2, 1006.53), sp_xt=[0.0, 0.002], sp_yt=[995.0, 997.5, 1000.0, 1002.5, 1005.0],
         dist_ylim=(-0.00072, 0.01826), dist_yt=[0.0, 0.005, 0.01, 0.015]),
]

LW = 1.75
GF_KW = dict(color=C_GF, ls=(0, (4.2, 1.9)), lw=2.0)


def xy(pairs):
    return [p[0] for p in pairs], [p[1] for p in pairs]


def add_ax(fig, box):
    l, t, r, b = box
    return fig.add_axes([l / W, 1 - b / H, (r - l) / W, (b - t) / H])


fig = plt.figure(figsize=(W / 100, H / 100), dpi=100)

for ri, row in enumerate(ROWS):
    boxes = BOXES[ri]
    # Loss
    ax = add_ax(fig, boxes[0])
    gd, pd_, ct, gf, fp = row['loss']
    ax.plot(*xy(gf), zorder=2, **GF_KW)
    ax.plot(*xy(ct), color=C_CT, lw=LW, zorder=3)
    ax.plot(*xy(fp), color=C_FP, lw=1.4, zorder=4)
    ax.plot(*xy(gd), color=C_GD, lw=LW, zorder=5)
    ax.plot(*xy(pd_), color=C_PD, lw=LW, zorder=6)
    ax.set_xlim(*row['xlim']); ax.set_xticks(row['xticks'])
    ax.set_ylim(*row['loss_ylim']); ax.set_yticks(row['loss_yt'])
    ax.set_xlabel('Step'); ax.set_ylabel('Loss')

    # Sharpness
    ax = add_ax(fig, boxes[1])
    gd, pd_, ct, gf = row['sharp']
    ax.plot(*xy(gf), zorder=2, **GF_KW)
    ax.plot(*xy(ct), color=C_CT, lw=LW, zorder=3)
    ax.plot(*xy(gd), color=C_GD, lw=LW, zorder=5)
    ax.plot(*xy(pd_), color=C_PD, lw=LW, zorder=6)
    ax.set_xlim(*row['xlim']); ax.set_xticks(row['xticks'])
    ax.set_ylim(*row['sharp_ylim']); ax.set_yticks(row['sharp_yt'])
    ax.set_xlabel('Step'); ax.set_ylabel('Sharpness')

    # Spiral
    ax = add_ax(fig, boxes[2])
    gd, pd_ = row['spiral']
    ax.plot(*xy(gd), color=C_GD, lw=LW, zorder=3)
    ax.plot(*xy(pd_), color=C_PD, lw=LW, zorder=4)
    ax.axhline(THRESHOLDS[ri], color='black', ls='--', lw=1.7, zorder=6)
    ax.set_xlim(*row['sp_xlim']); ax.set_xticks(row['sp_xt'])
    ax.set_ylim(*row['sp_ylim']); ax.set_yticks(row['sp_yt'])
    ax.set_xlabel(r'$|x|$'); ax.set_ylabel('Sharpness')

    # Distance
    ax = add_ax(fig, boxes[3])
    gd, pd_, gf, fp = row['dist']
    ax.plot(*xy(gf), zorder=2, **GF_KW)
    ax.plot(*xy(fp), color=C_FP, lw=1.4, zorder=4)
    ax.plot(*xy(gd), color=C_GD, lw=LW, zorder=5)
    ax.plot(*xy(pd_), color=C_PD, lw=LW, zorder=6)
    ax.set_xlim(*row['xlim']); ax.set_xticks(row['xticks'])
    ax.set_ylim(*row['dist_ylim']); ax.set_yticks(row['dist_yt'])
    ax.set_xlabel('Step'); ax.set_ylabel(r'Distance to $\theta^\dagger$')

    fig.text(0.504, 1 - ETA_Y[ri] / H, ETA_LABELS[ri], ha='center', va='center', fontsize=19.5)

fig.text(0.504, 1 - 22 / H, TITLE, ha='center', va='center', fontsize=27)

h1 = [Line2D([], [], color=C_GD, lw=4.5), Line2D([], [], color=C_PD, lw=4.5), Line2D([], [], color=C_CT, lw=4.5)]
h2 = [Line2D([], [], color=C_GF, lw=4.5, ls='--'), Line2D([], [], color=C_FP, lw=4.5)]
leg1 = fig.legend(h1, LEGEND_ROW1, loc='center', bbox_to_anchor=(0.502, 1 - 56 / H), ncol=3,
                  frameon=False, fontsize=20, borderaxespad=0, handlelength=2.0, columnspacing=2.0)
fig.add_artist(leg1)
fig.legend(h2, LEGEND_ROW2, loc='center', bbox_to_anchor=(0.51, 1 - 96 / H), ncol=2,
           frameon=False, fontsize=20, borderaxespad=0, handlelength=2.0, columnspacing=2.0)

fig.savefig('out.png', dpi=100)
